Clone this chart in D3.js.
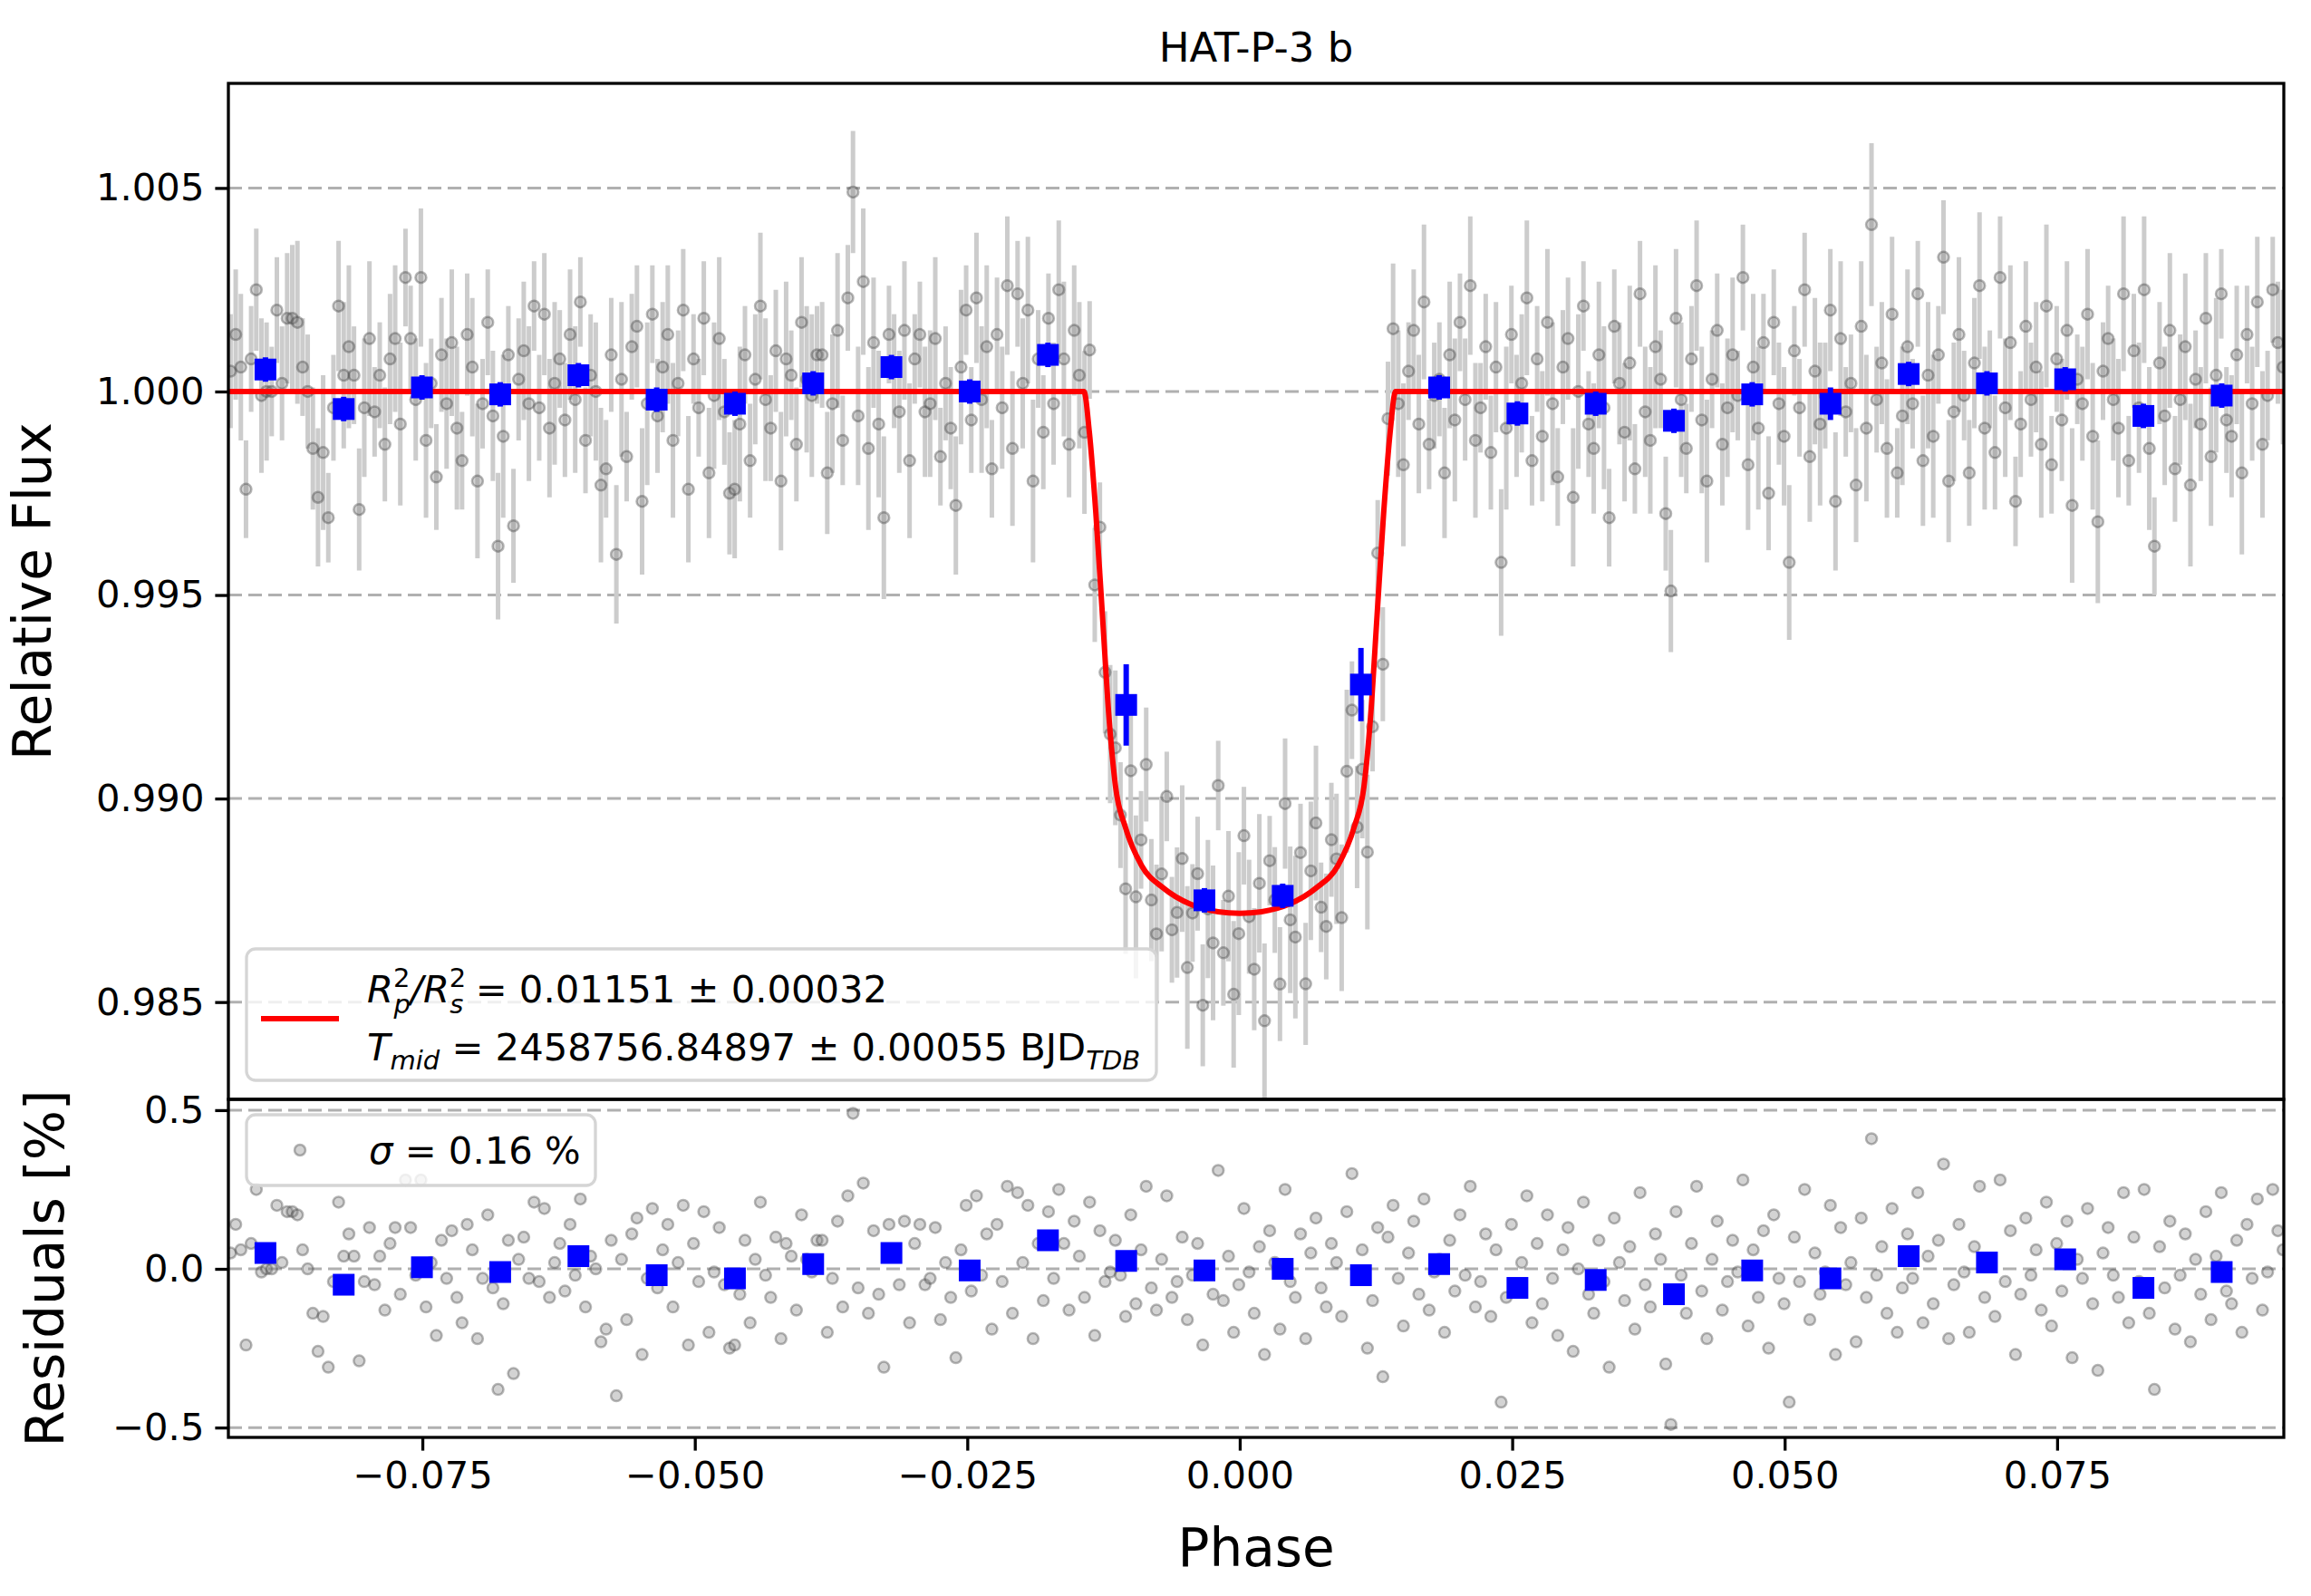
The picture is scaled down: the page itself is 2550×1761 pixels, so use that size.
<!DOCTYPE html>
<html>
<head>
<meta charset="utf-8">
<script src="https://cdn.jsdelivr.net/npm/d3@7"></script>
<style>
  body { margin: 0; background: #fff; }
  text { font-family: "DejaVu Sans", sans-serif; }
</style>
</head>
<body>
<svg id="chart" width="2550" height="1761"></svg>
<script>
// observations: evenly spaced in phase
var phaseStart = -0.0926, phaseStep = 0.000472;

// residuals in units of 0.01 %
var residuals = [
  5,14,6,-24,8,25,-1,0,0,20,2,18,18,17,6,0,-14,-26,-15,-31,-4,21,4,11,4,
  -29,-4,13,-5,4,-13,8,13,-8,28,13,-2,28,-12,2,-21,9,-3,12,-9,-17,14,6,-22,-3,
  17,-6,-38,-11,9,-33,3,10,-3,21,-4,19,-9,2,8,-7,14,-2,22,-12,4,0,-23,-19,9,
  -40,3,-16,11,16,-27,-3,19,-6,6,14,-12,2,20,-24,8,-4,18,-20,-1,13,-5,-25,-24,-8,
  9,-17,3,21,-2,-9,10,-22,8,4,-13,17,3,-1,9,9,-20,-3,15,-12,23,49,-6,27,-14,
  12,-8,-31,14,5,-5,15,-17,8,14,-5,-3,13,-16,2,-9,-28,6,20,-7,23,-2,11,-19,14,
  -4,26,-14,24,2,20,-22,8,-10,18,-3,25,8,-13,15,4,-9,21,-21,12,-4,-1,9,-2,-15,
  17,-11,6,26,-6,-13,3,23,-9,-4,10,-16,-2,8,-24,0,-8,31,-10,4,-20,-5,19,-1,-14,
  7,-27,12,2,-19,25,-4,-9,11,-22,5,16,-6,-12,8,2,-15,18,30,-3,6,-25,-10,13,-34,
  10,20,-3,-18,5,15,-8,22,-13,-1,3,-20,9,-7,17,-2,26,-12,-4,11,-15,6,-42,-9,14,
  -6,2,23,-17,8,-11,17,-3,-21,6,13,-26,0,21,-8,-14,9,-4,-31,16,2,-10,7,-19,24,
  -5,-12,11,3,-30,-49,18,-2,-14,8,26,-7,-22,3,15,-13,-4,9,-1,28,-18,6,-9,12,-25,
  17,-3,-11,-42,10,-4,25,-16,5,-8,-1,20,-27,13,-5,2,-23,16,-9,41,-2,7,-14,19,-20,
  -6,11,-3,24,-17,4,-11,9,33,-22,-5,14,-1,-20,7,26,-9,3,-15,28,-4,12,-27,-8,16,
  -2,6,-13,21,-18,8,-7,15,-28,3,-3,19,-11,-32,5,13,-2,-9,24,-17,10,-4,25,-14,-38,
  7,-6,15,-19,-2,11,-23,3,-8,18,-16,4,24,-7,-11,9,-20,14,-3,22,-13,-1,25,12,6
];

// flux error per point: digit d -> (11 + d) * 1e-4
var errDigits =
  "3571248602357913468025791" + "4680235791246802357914680" +
  "2579134680246913570246813" + "6802479135682470135792468" +
  "1357924680357912468024679" + "5791346802579134680257913" +
  "4682579130468257913046825" + "7913468025791346802579134" +
  "6802357914680235791468023" + "3579146802357914680235791" +
  "4680257913468025791346802" + "5791346802579134680257913" +
  "2468013579246801357924680" + "6802579134680257913468025" +
  "3579124680357912468035791" + "4682579135680246913570248";

// transit model (symmetric about phase 0)
var modelPhase = [-0.0960,-0.0143,-0.0138,-0.0132,-0.0126,-0.0120,-0.0114,-0.0105,-0.0090,-0.0070,-0.0045,-0.0020,0,
                  0.0020,0.0045,0.0070,0.0090,0.0105,0.0114,0.0120,0.0126,0.0132,0.0138,0.0143,0.0960];
var modelFlux  = [1.0000,1.0000,0.9990,0.9970,0.9945,0.9920,0.9903,0.9893,0.98835,0.98780,0.98740,0.98722,0.98718,
                  0.98722,0.98740,0.98780,0.98835,0.9893,0.9903,0.9920,0.9945,0.9970,0.9990,1.0000,1.0000];

// binned data
var binStart = -0.0894, binStep = 0.00718;
var binFlux = [1.00054,0.99957,1.0001,0.99993,1.0004,0.9998,0.9997,1.0002,1.0006,1.0000,1.0009,0.9923,0.9875,
               0.98761,0.9928,1.0001,0.99946,0.9997,0.99928,0.99993,0.9997,1.00043,1.0002,1.0003,0.9994,0.9999];
var binErr  = [0.0003,0.0003,0.0003,0.0003,0.0003,0.0003,0.0003,0.0003,0.0003,0.0003,0.0003,0.0010,0.0003,
               0.0003,0.0009,0.0003,0.0003,0.0003,0.0003,0.0003,0.0004,0.0003,0.0003,0.0003,0.0003,0.0003];
var binRes  = [0.05,-0.05,0.005,-0.01,0.04,-0.02,-0.03,0.015,0.05,-0.005,0.09,0.025,-0.005,
               0,-0.02,0.015,-0.06,-0.035,-0.08,-0.005,-0.03,0.04,0.02,0.03,-0.06,-0.01];

var fluxTicks = [0.985, 0.990, 0.995, 1.000, 1.005];
var resTicks = [-0.5, 0.0, 0.5];
var phaseTicks = [-0.075, -0.050, -0.025, 0.000, 0.025, 0.050, 0.075];

(function() {
var L = 252, R = 2520, T = 92, MID = 1213, B = 1586;
var svg = d3.select('#chart');
var minus = function(s) { return s.replace('-', '\u2212'); };

var x = d3.scaleLinear().domain([-0.0928, 0.0958]).range([L, R]);
var y = d3.scaleLinear().domain([0.98261, 1.00757]).range([MID, T]);
var yr = d3.scaleLinear().domain([-0.531, 0.534]).range([B, MID]);
var model = d3.scaleLinear().domain(modelPhase).range(modelFlux);

var pts = residuals.map(function(r, i) {
  var ph = phaseStart + i * phaseStep;
  return { phase: ph, res: r / 100, flux: model(ph) + r * 1e-4, err: (11 + (+errDigits[i])) * 1e-4 };
});
var bins = binFlux.map(function(f, i) {
  return { phase: binStart + i * binStep, flux: f, err: binErr[i], res: binRes[i] };
});

var defs = svg.append('defs');
defs.append('clipPath').attr('id', 'clipTop')
  .append('rect').attr('x', L).attr('y', T).attr('width', R - L).attr('height', MID - T);
defs.append('clipPath').attr('id', 'clipBot')
  .append('rect').attr('x', L).attr('y', MID).attr('width', R - L).attr('height', B - MID);

function grid(g, scale, ticks) {
  g.selectAll('line.grid').data(ticks).enter().append('line').attr('class', 'grid')
    .attr('x1', L).attr('x2', R)
    .attr('y1', function(d) { return scale(d); }).attr('y2', function(d) { return scale(d); })
    .attr('stroke', '#b0b0b0').attr('stroke-width', 3).attr('stroke-dasharray', '15,7');
}
function dots(g, yf) {
  g.selectAll('circle.pt').data(pts).enter().append('circle').attr('class', 'pt')
    .attr('cx', function(d) { return x(d.phase); }).attr('cy', yf)
    .attr('r', 6).attr('fill', '#808080').attr('fill-opacity', 0.35)
    .attr('stroke', '#333').attr('stroke-opacity', 0.35).attr('stroke-width', 2.5);
}

// top panel
var topG = svg.append('g').attr('clip-path', 'url(#clipTop)');
grid(topG, y, fluxTicks);
topG.selectAll('line.err').data(pts).enter().append('line').attr('class', 'err')
  .attr('x1', function(d) { return x(d.phase); }).attr('x2', function(d) { return x(d.phase); })
  .attr('y1', function(d) { return y(d.flux - d.err); }).attr('y2', function(d) { return y(d.flux + d.err); })
  .attr('stroke', '#cccccc').attr('stroke-width', 5);
dots(topG, function(d) { return y(d.flux); });
topG.append('path').datum(d3.zip(modelPhase, modelFlux))
  .attr('d', d3.line().x(function(d) { return x(d[0]); }).y(function(d) { return y(d[1]); }).curve(d3.curveMonotoneX))
  .attr('fill', 'none').attr('stroke', '#ff0000').attr('stroke-width', 6);
topG.selectAll('line.berr').data(bins).enter().append('line').attr('class', 'berr')
  .attr('x1', function(d) { return x(d.phase); }).attr('x2', function(d) { return x(d.phase); })
  .attr('y1', function(d) { return y(d.flux - d.err); }).attr('y2', function(d) { return y(d.flux + d.err); })
  .attr('stroke', '#0000ff').attr('stroke-width', 6);
topG.selectAll('rect.bin').data(bins).enter().append('rect').attr('class', 'bin')
  .attr('x', function(d) { return x(d.phase) - 12; }).attr('y', function(d) { return y(d.flux) - 12; })
  .attr('width', 24).attr('height', 24).attr('fill', '#0000ff');

// bottom panel
var botG = svg.append('g').attr('clip-path', 'url(#clipBot)');
grid(botG, yr, resTicks);
dots(botG, function(d) { return yr(d.res); });
botG.selectAll('rect.bin').data(bins).enter().append('rect').attr('class', 'bin')
  .attr('x', function(d) { return x(d.phase) - 12; }).attr('y', function(d) { return yr(d.res) - 12; })
  .attr('width', 24).attr('height', 24).attr('fill', '#0000ff');

// axes
function styleAxis(g) {
  g.select('.domain').remove();
  g.selectAll('.tick line').attr('stroke', '#000').attr('stroke-width', 3.3);
  g.selectAll('.tick text').attr('font-size', 41.7).attr('fill', '#000').attr('font-family', 'DejaVu Sans');
}
svg.append('g').attr('transform', 'translate(' + L + ',0)')
  .call(d3.axisLeft(y).tickValues(fluxTicks).tickFormat(d3.format('.3f')).tickSize(14.6).tickPadding(12))
  .call(styleAxis);
svg.append('g').attr('transform', 'translate(' + L + ',0)')
  .call(d3.axisLeft(yr).tickValues(resTicks).tickFormat(function(d) { return minus(d3.format('.1f')(d)); }).tickSize(14.6).tickPadding(12))
  .call(styleAxis);
svg.append('g').attr('transform', 'translate(0,' + B + ')')
  .call(d3.axisBottom(x).tickValues(phaseTicks).tickFormat(function(d) { return minus(d3.format('.3f')(d)); }).tickSize(14.6).tickPadding(12))
  .call(styleAxis);

[[T, MID], [MID, B]].forEach(function(p) {
  svg.append('rect').attr('x', L).attr('y', p[0]).attr('width', R - L).attr('height', p[1] - p[0])
    .attr('fill', 'none').attr('stroke', '#000').attr('stroke-width', 3.3);
});

// labels
svg.append('text').attr('x', (L + R) / 2).attr('y', 68).attr('text-anchor', 'middle')
  .attr('font-size', 45).text('HAT-P-3 b');
svg.append('text').attr('x', (L + R) / 2).attr('y', 1728).attr('text-anchor', 'middle')
  .attr('font-size', 58).text('Phase');
svg.append('text').attr('transform', 'translate(56,' + ((T + MID) / 2) + ') rotate(-90)')
  .attr('text-anchor', 'middle').attr('font-size', 58).text('Relative Flux');
svg.append('text').attr('transform', 'translate(70,' + ((MID + B) / 2) + ') rotate(-90)')
  .attr('text-anchor', 'middle').attr('font-size', 58).text('Residuals [%]');

// legends
function box(x0, y0, w, h) {
  svg.append('rect').attr('x', x0).attr('y', y0).attr('width', w).attr('height', h).attr('rx', 10)
    .attr('fill', '#fff').attr('fill-opacity', 0.8).attr('stroke', '#d5d5d5').attr('stroke-width', 3.3);
}
box(272, 1047, 1004, 145);
svg.append('line').attr('x1', 288).attr('x2', 374).attr('y1', 1124).attr('y2', 1124)
  .attr('stroke', '#ff0000').attr('stroke-width', 6);
var t1 = svg.append('text').attr('x', 405).attr('y', 1106).attr('font-size', 41.7);
t1.append('tspan').attr('font-style', 'italic').text('R');
t1.append('tspan').attr('font-size', 29).attr('dy', -17).text('2');
t1.append('tspan').attr('font-size', 29).attr('font-style', 'italic').attr('dx', -18).attr('dy', 29).text('p');
t1.append('tspan').attr('dy', -12).attr('font-style', 'italic').text('/R');
t1.append('tspan').attr('font-size', 29).attr('dy', -17).text('2');
t1.append('tspan').attr('font-size', 29).attr('font-style', 'italic').attr('dx', -18).attr('dy', 29).text('s');
t1.append('tspan').attr('dy', -12).text(' = 0.01151 \u00b1 0.00032');
var t2 = svg.append('text').attr('x', 405).attr('y', 1170).attr('font-size', 41.7);
t2.append('tspan').attr('font-style', 'italic').text('T');
t2.append('tspan').attr('font-size', 29).attr('font-style', 'italic').attr('dy', 10).text('mid');
t2.append('tspan').attr('dy', -10).text(' = 2458756.84897 \u00b1 0.00055 BJD');
t2.append('tspan').attr('font-size', 29).attr('font-style', 'italic').attr('dy', 10).text('TDB');

box(272, 1230, 385, 78);
svg.append('circle').attr('cx', 331).attr('cy', 1269).attr('r', 6)
  .attr('fill', '#808080').attr('fill-opacity', 0.35)
  .attr('stroke', '#333').attr('stroke-opacity', 0.35).attr('stroke-width', 2.5);
var t3 = svg.append('text').attr('x', 407).attr('y', 1284).attr('font-size', 41.7);
t3.append('tspan').attr('font-style', 'italic').text('\u03c3');
t3.append('tspan').text(' = 0.16 %');
})();
</script>
</body>
</html>
